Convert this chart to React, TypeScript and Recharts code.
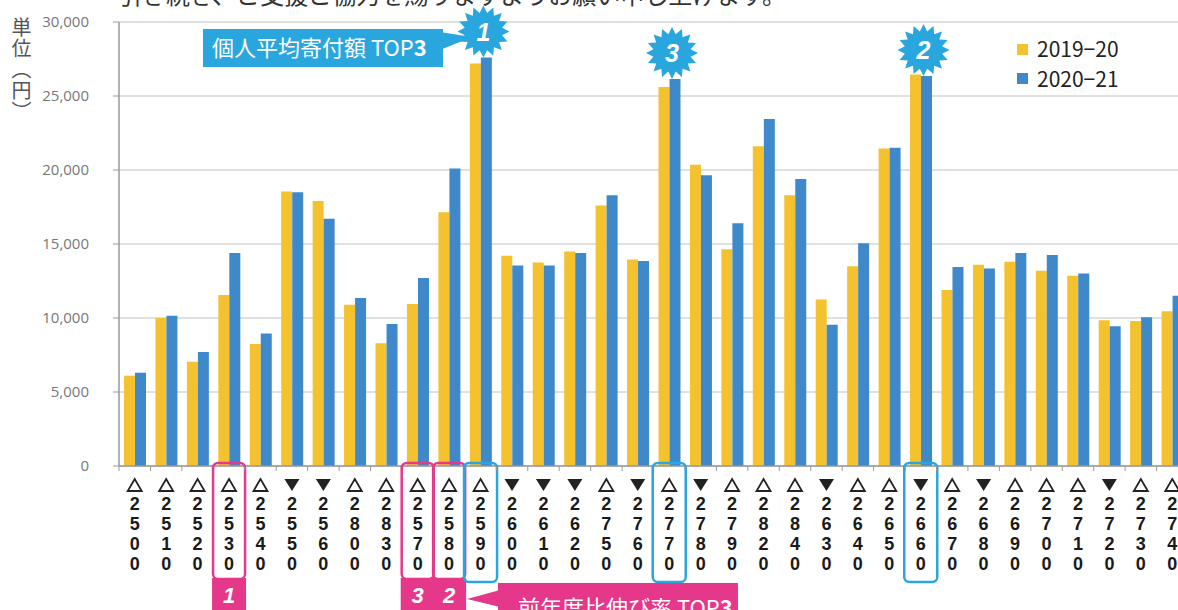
import { BarChart, Bar, XAxis, YAxis, CartesianGrid, LabelList } from 'recharts';

const codes = ['2500', '2510', '2520', '2530', '2540', '2550', '2560', '2800', '2830', '2570', '2580', '2590', '2600', '2610', '2620', '2750', '2760', '2770', '2780', '2790', '2820', '2840', '2630', '2640', '2650', '2660', '2670', '2680', '2690', '2700', '2710', '2720', '2730', '2740'];
const fy2019 = [6100, 10000, 7050, 11550, 8250, 18550, 17900, 10900, 8300, 10950, 17150, 27200, 14200, 13750, 14500, 17600, 13950, 25600, 20350, 14650, 21600, 18300, 11250, 13500, 21450, 26450, 11900, 13600, 13800, 13200, 12850, 9850, 9800, 10450];
const fy2020 = [6300, 10150, 7700, 14400, 8950, 18500, 16700, 11350, 9600, 12700, 20100, 27600, 13550, 13550, 14400, 18300, 13850, 26150, 19650, 16400, 23450, 19400, 9550, 15050, 21500, 26350, 13450, 13350, 14400, 14250, 13000, 9450, 10050, 11500];
const trend = ['△', '△', '△', '△', '△', '▼', '▼', '△', '△', '△', '△', '△', '▼', '▼', '▼', '△', '▼', '△', '▼', '△', '△', '△', '▼', '△', '△', '▼', '△', '▼', '△', '△', '△', '▼', '△', '△'];
// rank 1, 2, 3
const growthTop = ['2530', '2580', '2570'];
const amountTop = ['2590', '2660', '2770'];
const yTicks = [0, 5000, 10000, 15000, 20000, 25000, 30000];
const seriesNames = ['2019−20', '2020−21'];

const YELLOW = '#F4C22E';
const BLUE = '#3F89CA';
const PINK = '#E6388A';
const SKY = '#2AA6DF';

const rows = codes.map((code, i) => ({
  code,
  y2019: fy2019[i],
  y2020: fy2020[i],
  amountRank: amountTop.indexOf(code) + 1 || null,
}));

function CodeTick(props: any) {
  const { x, y, payload } = props;
  const code: string = payload.value;
  const i = codes.indexOf(code);
  const up = trend[i] === '△';
  const g = growthTop.indexOf(code) + 1;
  const a = amountTop.indexOf(code) + 1;
  return (
    <g>
      <line x1={x - 15.7} x2={x - 15.7} y1={y} y2={y + 5} stroke="#999" />
      {g > 0 && (
        <>
          <rect x={x - 16} y={y - 3} width={32} height={116} rx={5} fill="none" stroke={PINK} strokeWidth={2.5} />
          <rect x={x - 17} y={y + 112} width={34} height={40} fill={PINK} />
          <text x={x} y={y + 137} textAnchor="middle" fill="#fff" fontSize={22} fontWeight="bold" fontStyle="italic" fontFamily="Liberation Sans, Arial">
            {g}
          </text>
        </>
      )}
      {a > 0 && (
        <rect x={x - 16.5} y={y - 3} width={33} height={119} rx={5} fill="none" stroke={SKY} strokeWidth={2.5} />
      )}
      {up ? (
        <path d={`M${x - 7},${y + 25} L${x + 7},${y + 25} L${x},${y + 13} Z`} fill="none" stroke="#222" strokeWidth={1.8} strokeLinejoin="miter" />
      ) : (
        <path d={`M${x - 7.5},${y + 13} L${x + 7.5},${y + 13} L${x},${y + 25} Z`} fill="#222" />
      )}
      {code.split('').map((d, k) => (
        <text key={k} x={x} y={y + 44 + k * 20} textAnchor="middle" fill="#1a1a1a" fontSize={18} fontWeight="bold" fontFamily="Liberation Sans, Arial">
          {d}
        </text>
      ))}
    </g>
  );
}

function burstPoints(cx: number, cy: number, ro: number, ri: number, n: number) {
  const pts: string[] = [];
  for (let k = 0; k < n * 2; k++) {
    const r = k % 2 === 0 ? ro : ri;
    const ang = (Math.PI * k) / n - Math.PI / 2;
    pts.push(`${(cx + r * Math.cos(ang)).toFixed(1)},${(cy + r * Math.sin(ang)).toFixed(1)}`);
  }
  return pts.join(' ');
}

function Burst(props: any) {
  const { x, y, width, value } = props;
  if (!value) return null;
  const cx = x + width / 2 - 3;
  const cy = y - 26;
  return (
    <g>
      <polygon points={burstPoints(cx, cy, 26, 19, 16)} fill={SKY} />
      <text x={cx} y={cy + 9} textAnchor="middle" fill="#fff" fontSize={25} fontWeight="bold" fontStyle="italic" fontFamily="Liberation Sans, Arial">
        {value}
      </text>
    </g>
  );
}

export default function App() {
  return (
    <div style={{ position: 'fixed', left: 0, top: 0, width: 1178, height: 610, overflow: 'hidden', background: '#fff' }}>
      <BarChart width={1200} height={610} data={rows} margin={{ top: 22, right: 12, bottom: 0, left: 0 }} barGap={0}>
        <CartesianGrid vertical={false} stroke="#c2c2c2" />
        <XAxis
          dataKey="code"
          height={144}
          interval={0}
          tickLine={false}
          tickSize={0}
          tickMargin={0}
          axisLine={{ stroke: '#999', strokeWidth: 1.5 }}
          tick={(p: any) => <CodeTick {...p} />}
        />
        <YAxis
          width={119}
          domain={[0, 30000]}
          ticks={yTicks}
          tickSize={6}
          tickMargin={24}
          axisLine={{ stroke: '#999', strokeWidth: 1.5 }}
          tickLine={{ stroke: '#999' }}
          tick={{ fill: '#777', fontSize: 15, fontFamily: 'Open Sans' }}
          tickFormatter={(v: number) => v.toLocaleString('en-US')}
        />
        <Bar dataKey="y2019" name={seriesNames[0]} fill={YELLOW} barSize={11} isAnimationActive={false} />
        <Bar dataKey="y2020" name={seriesNames[1]} fill={BLUE} barSize={11} isAnimationActive={false}>
          <LabelList dataKey="amountRank" content={(p: any) => <Burst {...p} />} />
        </Bar>
      </BarChart>

      <svg width={1178} height={610} style={{ position: 'absolute', left: 0, top: 0, pointerEvents: 'none' }}>
        <text x={118} y={4} fontSize={24} fill="#333" fontFamily="Noto Sans CJK JP">
          引き続き、ご支援ご協力を賜りますようお願い申し上げます。
        </text>

        {/* legend */}
        <rect x={1017} y={44} width={11} height={11} fill={YELLOW} />
        <text x={1037} y={57} fontSize={21} fill="#222" fontFamily="Noto Sans CJK JP">{seriesNames[0]}</text>
        <rect x={1017} y={73} width={11} height={11} fill={BLUE} />
        <text x={1037} y={87} fontSize={21} fill="#222" fontFamily="Noto Sans CJK JP">{seriesNames[1]}</text>

        {/* amount top3 banner */}
        <polygon points="440,32 440,50 472,37" fill={SKY} />
        <rect x={203} y={29} width={240} height={38} fill={SKY} />
        <text x={212} y={56} fontSize={22} fill="#fff" fontFamily="Noto Sans CJK JP">
          個人平均寄付額 TOP<tspan fontWeight="bold">3</tspan>
        </text>

        {/* growth top3 banner */}
        <polygon points="467,599 500,590 500,607" fill={PINK} />
        <rect x={498} y={583} width={240} height={30} fill={PINK} />
        <text x={518} y={616} fontSize={22} fill="#fff" fontFamily="Noto Sans CJK JP">
          前年度比伸び率 TOP<tspan fontWeight="bold">3</tspan>
        </text>
      </svg>

      <div
        style={{
          position: 'absolute',
          left: 10,
          top: 17,
          writingMode: 'vertical-rl',
          fontSize: 20,
          lineHeight: '22px',
          letterSpacing: 1,
          color: '#555',
          fontFamily: 'Noto Sans CJK JP',
        }}
      >
        単位（円）
      </div>
    </div>
  );
}
